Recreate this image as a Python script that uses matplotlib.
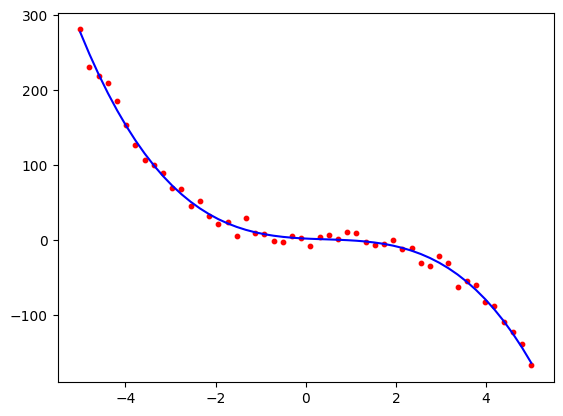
import matplotlib
matplotlib.use('Agg')
import matplotlib.pyplot as plt
import numpy as np

# sample points
x = np.linspace(-5, 5, 50)
y = np.array([281, 231, 219, 210, 186, 153, 127, 107, 100, 90,
              70, 68, 46, 52, 32, 21, 24, 5, 29, 9,
              8, -1, -3, 6, 3, -8, 4, 7, 1, 11,
              9, -3, -7, -5, 0, -12, -10, -30, -35, -21,
              -30, -63, -55, -60, -82, -88, -109, -122, -139, -167])

# cubic fit through the samples
coef = np.polyfit(x, y, 3)

plt.figure(figsize=(6.4, 4.8))
plt.scatter(x, y, color='red', s=10)
plt.plot(x, np.polyval(coef, x), color='blue')
plt.savefig('out.png', bbox_inches='tight')
plt.close()
